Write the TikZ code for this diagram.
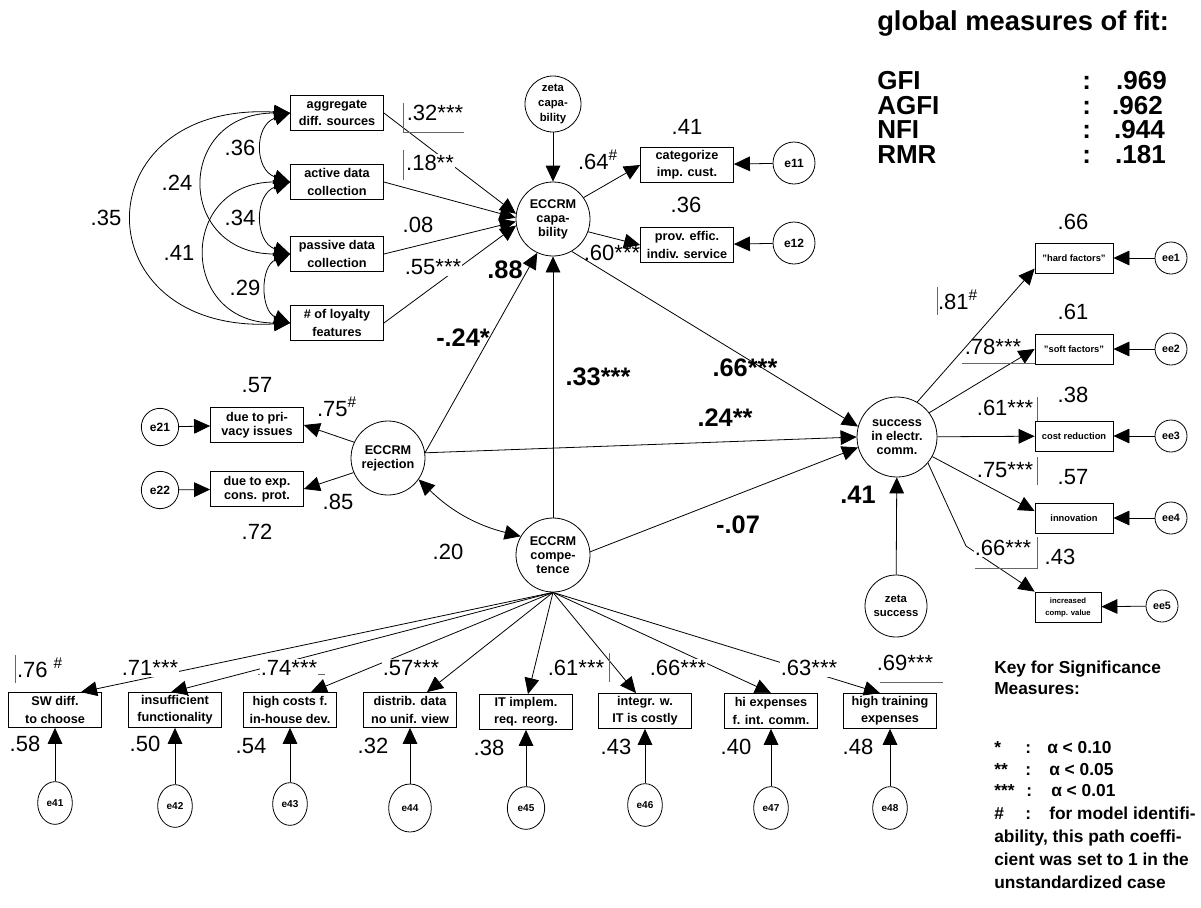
\documentclass[tikz,border=0pt]{standalone}
\usepackage{fontspec}
\setmainfont{Liberation Sans}
\usetikzlibrary{arrows.meta,shapes.geometric}

\tikzset{
  box/.style={draw, line width=0.6pt, minimum width=69.75pt, minimum height=26.25pt, inner sep=1pt, align=center, font=\fontsize{9.5}{13}\selectfont\bfseries},
  sbox/.style={box, minimum width=58.5pt, minimum height=22.5pt, font=\fontsize{7}{8.5}\selectfont\bfseries},
  lat/.style={draw, circle, line width=0.6pt, inner sep=0pt, align=center, minimum size=55.5pt, font=\fontsize{9.5}{10.5}\selectfont\bfseries},
  zeta/.style={lat, minimum size=42pt, font=\fontsize{8.5}{11}\selectfont\bfseries},
  err/.style={draw, circle, line width=0.6pt, inner sep=0pt, minimum size=31.5pt, font=\fontsize{9}{10}\selectfont\bfseries},
  eell/.style={err, ellipse, minimum width=26pt, minimum height=32pt, font=\fontsize{7.5}{9}\selectfont\bfseries},
  arr/.style={line width=0.6pt, -{Triangle[length=12pt,width=11pt]}},
  darr/.style={line width=0.6pt, {Triangle[length=12pt,width=11pt]}-{Triangle[length=12pt,width=11pt]}},
  coef/.style={inner sep=1pt, font=\fontsize{16.5}{18}\selectfont},
  wcoef/.style={coef, fill=white},
  bcoef/.style={inner sep=1pt, font=\fontsize{19}{21}\selectfont\bfseries},
  flag/.style={line width=0.4pt, black!60},
  fitrow/.style={anchor=base west, inner sep=0pt, font=\fontsize{19.5}{21}\selectfont\bfseries},
  keyrow/.style={anchor=base west, inner sep=0pt, font=\fontsize{13}{16}\selectfont\bfseries},
}

\begin{document}
\begin{tikzpicture}[x=0.75pt,y=-0.75pt]
\fill[white] (0,0) rectangle (1201,907);
\useasboundingbox (0,0) rectangle (1201,907);

% ECCRM capability and its indicators
\node[box] (agg) at (337,113) {aggregate\\diff. sources};
\node[box] (act) at (337,182) {active data\\collection};
\node[box] (pas) at (337,254) {passive data\\collection};
\node[box] (loy) at (337,323) {\# of loyalty\\features};
\node[zeta] (zcap) at (553,104) {zeta\\capa-\\bility};
\node[lat] (cap) at (553,219) {ECCRM\\capa-\\bility};
\node[box] (cat) at (687,165) {categorize\\imp. cust.};
\node[box] (prov) at (687,245) {prov. effic.\\indiv. service};
\node[err] (e11) at (794,163) {e11};
\node[err] (e12) at (794,243) {e12};

% ECCRM rejection
\node[lat] (rej) at (388,458) {ECCRM\\rejection};
\node[box, font=\fontsize{9.5}{10.5}\selectfont\bfseries] (priv) at (257,425) {due to pri-\\vacy issues};
\node[box, font=\fontsize{9.5}{10.5}\selectfont\bfseries] (exp) at (257,489) {due to exp.\\cons. prot.};
\node[err, minimum size=28pt] (e21) at (160,427) {e21};
\node[err, minimum size=28pt] (e22) at (160,490) {e22};

% success
\node[lat] (comp) at (553,555) {ECCRM\\compe-\\tence};
\node[lat, minimum size=60pt] (succ) at (897,437) {success\\in electr.\\comm.};
\node[zeta, minimum size=46.5pt] (zsuc) at (896,606) {zeta\\success};
\node[sbox] (hard) at (1074,258) {"hard factors"};
\node[sbox] (soft) at (1074,349) {"soft factors"};
\node[sbox] (cost) at (1074,436) {cost reduction};
\node[sbox] (innov) at (1074,518) {innovation};
\node[sbox, minimum width=49.5pt, font=\fontsize{5.8}{9}\selectfont\bfseries] (incr) at (1068,607) {increased\\comp. value};
\node[err, minimum size=24pt, font=\fontsize{8}{9}\selectfont\bfseries] (ee1) at (1171,258) {ee1};
\node[err, minimum size=24pt, font=\fontsize{8}{9}\selectfont\bfseries] (ee2) at (1171,349) {ee2};
\node[err, minimum size=24pt, font=\fontsize{8}{9}\selectfont\bfseries] (ee3) at (1171,436) {ee3};
\node[err, minimum size=24pt, font=\fontsize{8}{9}\selectfont\bfseries] (ee4) at (1171,518) {ee4};
\node[err, minimum size=24pt, font=\fontsize{8}{9}\selectfont\bfseries] (ee5) at (1162,606) {ee5};

% ECCRM competence indicators
\node[box] (b41) at (55,710) {SW diff.\\to choose};
\node[box] (b42) at (175,710) {insufficient\\functionality};
\node[box] (b43) at (290,710) {high costs f.\\in-house dev.};
\node[box] (b44) at (410,710) {distrib. data\\no unif. view};
\node[box] (b45) at (526,712) {IT implem.\\req. reorg.};
\node[box] (b46) at (645,711) {integr. w.\\IT is costly};
\node[box] (b47) at (771,711) {hi expenses\\f. int. comm.};
\node[box] (b48) at (890,711) {high training\\expenses};
\node[eell] (e41) at (55,803) {e41};
\node[eell] (e42) at (175,806) {e42};
\node[eell] (e43) at (290,804) {e43};
\node[eell, minimum width=32pt, minimum height=36pt] (e44) at (410,808) {e44};
\node[eell, minimum width=28pt] (e45) at (526,808) {e45};
\node[eell] (e46) at (645,805) {e46};
\node[eell] (e47) at (771,808) {e47};
\node[eell] (e48) at (890,808) {e48};

% paths
\draw[darr] (agg.west) .. controls +(-36,12) and +(-36,-12) .. (act.west);
\draw[darr] (act.west) .. controls +(-36,12) and +(-36,-12) .. (pas.west);
\draw[darr] (pas.west) .. controls +(-30,12) and +(-30,-12) .. (loy.west);
\draw[darr] (agg.west) .. controls +(-115,0) and +(-115,0) .. (pas.west);
\draw[darr] (act.west) .. controls +(-112,0) and +(-112,0) .. (loy.west);
\draw[darr] (agg.west) .. controls +(-209,-12) and +(-209,12) .. (loy.west);
\draw[arr] (zcap) -- (cap);
\draw[arr] (agg.east) -- (cap.172);
\draw[arr] (act.east) -- (cap.178);
\draw[arr] (pas.east) -- (cap.184);
\draw[arr] (loy.east) -- (cap.190);
\draw[arr] (cap.35) -- (cat.west);
\draw[arr] (cap.-20) -- (prov.west);
\draw[arr] (e11) -- (cat);
\draw[arr] (e12) -- (prov);
\draw[arr] (rej.155) -- (priv.east);
\draw[arr] (rej.203) -- (exp.east);
\draw[arr] (e21) -- (priv);
\draw[arr] (e22) -- (exp);
\draw[arr] (rej.8) -- (cap.-115);
\draw[arr] (comp.north) -- (cap.south);
\draw[darr] (rej.-35) to[bend right=15] (comp.150);
\draw[arr] (cap.-60) -- (succ.165);
\draw[arr] (rej.8) -- (succ.180);
\draw[arr] (comp.5) -- (succ.195);
\draw[arr] (zsuc) -- (succ);
\draw[arr] (succ.60) -- (hard.195);
\draw[arr] (succ.37) -- (soft.west);
\draw[arr] (succ) -- (cost);
\draw[arr] (succ.-29) -- (innov.170);
\coordinate (kink) at (966,546);
\draw[arr] (succ.-40) -- (kink) -- (incr.north west);
\draw[arr] (ee1) -- (hard);
\draw[arr] (ee2) -- (soft);
\draw[arr] (ee3) -- (cost);
\draw[arr] (ee4) -- (innov);
\draw[arr] (ee5) -- (incr);
\draw[arr] (comp.south) -- ([xshift=19.5pt]b41.north);
\draw[arr] (comp.south) -- ([xshift=-3pt]b42.north);
\draw[arr] (comp.south) -- ([xshift=15.75pt]b43.north);
\draw[arr] (comp.south) -- ([xshift=12.75pt]b44.north);
\draw[arr] (comp.south) -- ([xshift=1.5pt]b45.north);
\draw[arr] (comp.south) -- ([xshift=-6.75pt]b46.north);
\draw[arr] (comp.south) -- (b47.north);
\draw[arr] (comp.south) -- ([xshift=-7.5pt]b48.north);
\draw[arr] (e41) -- (b41);
\draw[arr] (e42) -- (b42);
\draw[arr] (e43) -- (b43);
\draw[arr] (e44) -- (b44);
\draw[arr] (e45) -- (b45);
\draw[arr] (e46) -- (b46);
\draw[arr] (e47) -- (b47);
\draw[arr] (e48) -- (b48);

% marker lines beside some estimates
\draw[flag] (403,103) -- (403,132) -- (464,132);
\draw[flag] (403,150) -- (403,180);
\draw[flag] (937,287) -- (937,315);
\draw[flag] (962,363) -- (1035,363);
\draw[flag] (1037,397) -- (1037,421);
\draw[flag] (1037,457) -- (1037,485);
\draw[flag] (975,568) -- (1037,568) -- (1037,537);
\draw[flag] (15,655) -- (15,683);
\draw[flag] (258,674) -- (325,674);
\draw[flag] (609,653) -- (609,682);
\draw[flag] (880,682) -- (943,682);

% estimates
\node[coef] (c36) at (240,148) {.36};
\node[coef] (c24) at (177,183) {.24};
\node[coef] (c35) at (106,218) {.35};
\node[coef] (c34) at (240,218) {.34};
\node[coef] (c41) at (179,253) {.41};
\node[coef] (c29) at (245,288) {.29};
\node[coef] (p32) at (435,113) {.32***};
\node[wcoef] (p18) at (430,163) {.18**};
\node[coef] (p08) at (418,225) {.08};
\node[wcoef] (p55) at (433,267) {.55***};
\node[bcoef] (r88) at (505,270) {.88};
\node[coef] (r41) at (687,127) {.41};
\node[coef] (l64) at (598,160) {.64\textsuperscript{\#}};
\node[coef] (r36) at (686,205) {.36};
\node[coef] (l60) at (612,253) {.60***};
\node[bcoef] (g24) at (463,338) {-.24*};
\node[bcoef] (g33) at (598,377) {.33***};
\node[bcoef] (g66) at (745,368) {.66***};
\node[bcoef] (g24b) at (725,418) {.24**};
\node[bcoef] (g07) at (738,525) {-.07};
\node[bcoef] (r41b) at (858,495) {.41};
\node[coef] (r57) at (257,385) {.57};
\node[coef] (l75) at (337,407) {.75\textsuperscript{\#}};
\node[coef] (l85) at (338,502) {.85};
\node[coef] (r72) at (257,532) {.72};
\node[coef] (c20) at (448,552) {.20};
\node[coef] (r66) at (1073,222) {.66};
\node[coef] (l81) at (958,300) {.81\textsuperscript{\#}};
\node[coef] (r61) at (1073,312) {.61};
\node[coef] (l78) at (993,347) {.78***};
\node[coef] (r38) at (1073,395) {.38};
\node[coef] (l61) at (1005,408) {.61***};
\node[coef] (r57b) at (1073,477) {.57};
\node[coef] (l75b) at (1005,470) {.75***};
\node[coef] (r43) at (1060,557) {.43};
\node[wcoef] (l66) at (1003,548) {.66***};
\node[coef] (l76) at (40,668) {.76 \textsuperscript{\#}};
\node[wcoef] (l71) at (150,668) {.71***};
\node[wcoef] (l74) at (289,668) {.74***};
\node[wcoef] (l57) at (411,668) {.57***};
\node[coef] (l61b) at (576,668) {.61***};
\node[wcoef] (l66b) at (678,668) {.66***};
\node[wcoef] (l63) at (809,668) {.63***};
\node[coef] (l69) at (905,663) {.69***};
\node[coef] (r58) at (25,744) {.58};
\node[coef] (r50) at (145,744) {.50};
\node[coef] (r54) at (251,746) {.54};
\node[coef] (r32) at (373,746) {.32};
\node[coef] (r38b) at (489,748) {.38};
\node[coef] (r43b) at (616,747) {.43};
\node[coef] (r40) at (736,747) {.40};
\node[coef] (r48) at (858,747) {.48};

% fit measures
\node[fitrow, font=\fontsize{20.5}{22}\selectfont\bfseries] (fit) at (877,30) {global measures of fit:};
\node[fitrow] (gfi) at (877,89) {GFI};
\node[fitrow] (agfi) at (877,114) {AGFI};
\node[fitrow] (nfi) at (877,138) {NFI};
\node[fitrow] (rmr) at (877,163) {RMR};
\node[fitrow] (gfic) at (1082,89) {:};
\node[fitrow] (agfic) at (1082,114) {:};
\node[fitrow] (nfic) at (1082,138) {:};
\node[fitrow] (rmrc) at (1082,163) {:};
\node[fitrow, anchor=base east] (gfiv) at (1167,89) {.969};
\node[fitrow, anchor=base east] (agfiv) at (1163,114) {.962};
\node[fitrow, anchor=base east] (nfiv) at (1165,138) {.944};
\node[fitrow, anchor=base east] (rmrv) at (1166,163) {.181};

% key
\node[keyrow] (key) at (994,673) {Key for Significance};
\node[keyrow] (keyb) at (994,694) {Measures:};
\node[keyrow] (k1) at (994,753) {*};
\node[keyrow] (k2) at (994,775) {**};
\node[keyrow] (k3) at (994,796) {***};
\node[keyrow] (k4) at (994,819) {\#};
\node[keyrow] (k1c) at (1025,753) {:};
\node[keyrow] (k2c) at (1025,775) {:};
\node[keyrow] (k3c) at (1026,796) {:};
\node[keyrow] (k4c) at (1025,819) {:};
\node[keyrow] (k1v) at (1047,753) {α < 0.10};
\node[keyrow] (k2v) at (1049,775) {α < 0.05};
\node[keyrow] (k3v) at (1051,796) {α < 0.01};
\node[keyrow] (k4v) at (1049,819) {for model identifi-};
\node[keyrow] (k5) at (994,842) {ability, this path coeffi-};
\node[keyrow] (k6) at (994,865) {cient was set to 1 in the};
\node[keyrow] (k7) at (994,888) {unstandardized case};
\end{tikzpicture}
\end{document}
